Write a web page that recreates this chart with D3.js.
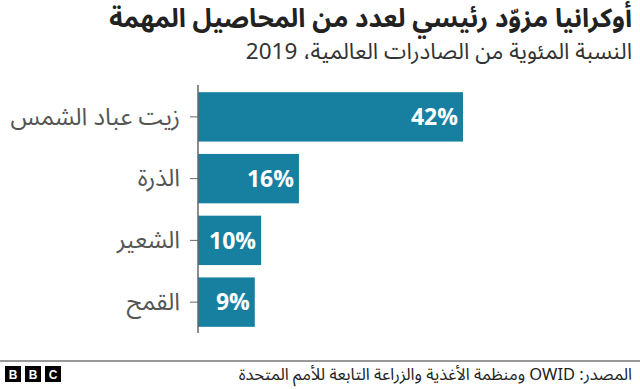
<!DOCTYPE html>
<html>
<head>
<meta charset="utf-8">
<script src="https://cdn.jsdelivr.net/npm/d3@7"></script>
<style>
body { margin: 0; background: #fff; }
svg text { font-family: "Noto Sans Arabic", "DejaVu Sans", "Noto Sans", sans-serif; }
</style>
</head>
<body>
<div id="chart"></div>
<script>
// data
var crops = ["زيت عباد الشمس", "الذرة", "الشعير", "القمح"];
var shares = [42, 16, 10, 9];

var titleText = "أوكرانيا مزوّد رئيسي لعدد من المحاصيل المهمة";
var subtitleText = "النسبة المئوية من الصادرات العالمية، 2019";
var sourceText = "المصدر: OWID ومنظمة الأغذية والزراعة التابعة للأمم المتحدة";

var width = 640, height = 389;

// wrap arabic in a right-to-left embedding so it can be right-anchored normally
function rtl(s) { return "\u202B" + s + "\u202C"; }

var svg = d3.select("#chart").append("svg")
	.attr("width", width)
	.attr("height", height);

// title + subtitle
svg.append("text")
	.attr("x", 632).attr("y", 27)
	.attr("text-anchor", "end")
	.style("font-size", "26px")
	.style("font-weight", "bold")
	.style("fill", "#222")
	.text(rtl(titleText));

svg.append("text")
	.attr("x", 632).attr("y", 59)
	.attr("text-anchor", "end")
	.style("font-size", "22.5px")
	.style("fill", "#333")
	.text(rtl(subtitleText));

// scales
var x = d3.scaleLinear()
	.domain([0, 42])
	.range([198, 463]);

var y = d3.scaleBand()
	.domain(crops)
	.range([86, 333])
	.paddingInner(0.2)
	.paddingOuter(0.1);

// bars
svg.selectAll(".bar")
	.data(shares)
	.enter().append("rect")
	.attr("class", "bar")
	.attr("x", x(0))
	.attr("y", function (d, i) { return y(crops[i]); })
	.attr("width", function (d) { return x(d) - x(0); })
	.attr("height", y.bandwidth())
	.style("fill", "#1780a1");

// value labels
svg.selectAll(".val")
	.data(shares)
	.enter().append("text")
	.attr("class", "val")
	.attr("x", function (d) { return x(d) - 5; })
	.attr("y", function (d, i) { return y(crops[i]) + y.bandwidth() / 2; })
	.attr("dy", "0.36em")
	.attr("text-anchor", "end")
	.style("font-size", "23px")
	.style("font-weight", "bold")
	.style("fill", "#fff")
	.text(function (d) { return d + "%"; });

// y axis
var yAxis = svg.append("g")
	.attr("transform", "translate(" + x(0) + ",0)")
	.call(d3.axisLeft(y).tickSize(8).tickPadding(10).tickSizeOuter(0));

yAxis.select(".domain").style("stroke", "#666").style("stroke-width", 1.5)
	.attr("d", "M0,85V333");
yAxis.selectAll(".tick line").style("stroke", "#666");
yAxis.selectAll(".tick text")
	.style("font-size", "24px")
	.style("fill", "#555");

// footer
svg.append("line")
	.attr("x1", 0).attr("x2", width)
	.attr("y1", 361).attr("y2", 361)
	.style("stroke", "#333")
	.style("stroke-width", 1);

svg.append("text")
	.attr("x", 632).attr("y", 380)
	.attr("text-anchor", "end")
	.style("font-size", "16.5px")
	.style("fill", "#222")
	.text(rtl(sourceText));

// BBC blocks
var bbc = svg.append("g").attr("transform", "translate(5,366)");
["B", "B", "C"].forEach(function (l, i) {
	bbc.append("rect")
		.attr("x", i * 20).attr("y", 0)
		.attr("width", 16).attr("height", 16)
		.style("fill", "#000");
	bbc.append("text")
		.attr("x", i * 20 + 8).attr("y", 12.5)
		.attr("text-anchor", "middle")
		.style("font-family", "Arial, 'Liberation Sans', sans-serif")
		.style("font-size", "12px")
		.style("font-weight", "bold")
		.style("fill", "#fff")
		.text(l);
});
</script>
</body>
</html>
